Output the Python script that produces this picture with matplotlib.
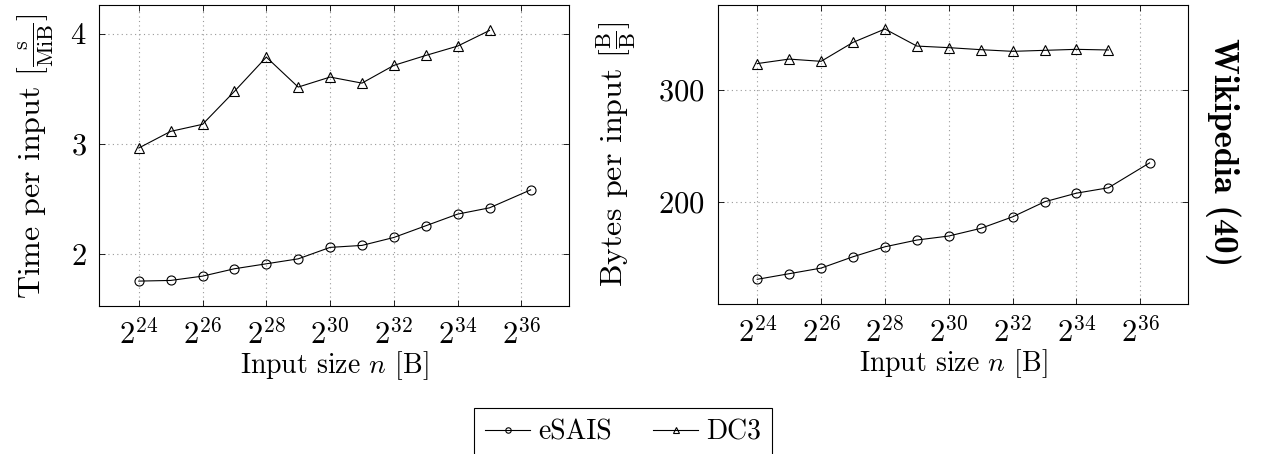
import matplotlib
matplotlib.use("Agg")
import matplotlib.pyplot as plt
import numpy as np

plt.rcParams['font.family'] = 'serif'
plt.rcParams['font.serif'] = ['cmr10']
plt.rcParams['mathtext.fontset'] = 'cm'
plt.rcParams['axes.formatter.use_mathtext'] = True
plt.rcParams['font.size'] = 21

# x positions as exponents of 2
exp_dc3 = [24, 25, 26, 27, 28, 29, 30, 31, 32, 33, 34, 35]
exp_esais = [24, 25, 26, 27, 28, 29, 30, 31, 32, 33, 34, 35, 36.29]

# time per input [s/MiB]
time_esais = [1.755, 1.761, 1.80, 1.867, 1.912, 1.957, 2.061, 2.079, 2.151, 2.257, 2.363, 2.42, 2.583]
time_dc3 = [2.963, 3.114, 3.178, 3.477, 3.788, 3.516, 3.607, 3.552, 3.713, 3.803, 3.888, 4.03]

# bytes per input [B/B]
bytes_esais = [130.9, 135.9, 140.9, 151.0, 159.9, 165.9, 169.5, 176.3, 186.6, 200.0, 207.7, 212.5, 234.7]
bytes_dc3 = [323.2, 327.2, 325.2, 342.1, 354.0, 338.8, 337.4, 335.6, 334.1, 335.0, 335.9, 335.3]

xticks = [24, 26, 28, 30, 32, 34, 36]

fig = plt.figure(figsize=(12.61, 4.54), dpi=100)
ax1 = fig.add_axes([0.0787, 0.326, 0.3727, 0.662])
ax2 = fig.add_axes([0.5691, 0.3304, 0.3732, 0.6593])


def style(ax, yvals_e, yvals_d):
    xe = 2.0 ** np.array(exp_esais)
    xd = 2.0 ** np.array(exp_dc3)
    ax.plot(xe, yvals_e, '-o', color='black', lw=0.8, ms=6.5, mfc='none', mew=0.8, label='eSAIS')
    ax.plot(xd, yvals_d, '-^', color='black', lw=0.8, ms=7, mfc='none', mew=0.8, label='DC3')
    ax.set_xscale('log', base=2)
    ax.set_xticks([2.0 ** e for e in xticks])
    ax.set_xticklabels([r'$2^{%d}$' % e for e in xticks])
    ax.minorticks_off()
    ax.set_xlim(2.0 ** 22.76, 2.0 ** 37.5)
    ax.grid(True, linestyle=(0, (1, 3)), color='#999999', lw=0.8)
    ax.tick_params(direction='in', top=True, right=True, length=4, width=0.6, pad=9, labelsize=22)
    for s in ax.spines.values():
        s.set_linewidth(0.8)
    ax.set_xlabel(r'Input size $n$ [B]', fontsize=20, labelpad=0)


style(ax1, time_esais, time_dc3)
ax1.set_yticks([2, 3, 4])
ax1.set_ylim(1.529, 4.257)
ax1.set_ylabel(r'Time per input $[\frac{\mathrm{s}}{\mathrm{MiB}}]$', fontsize=23, labelpad=10)

style(ax2, bytes_esais, bytes_dc3)
ax2.set_yticks([200, 300])
ax2.set_ylim(108.9, 375.7)
ax2.set_ylabel(r'Bytes per input $[\frac{\mathrm{B}}{\mathrm{B}}]$', fontsize=23, labelpad=15)

fig.text(0.970, 0.666, 'Wikipedia (40)', fontfamily='cmb10', rotation=-90,
         ha='center', va='center', fontsize=25)

handles, labels = ax1.get_legend_handles_labels()
leg = fig.legend(handles, labels, loc='upper center', bbox_to_anchor=(0.4943, 0.1013), ncol=2,
                 fontsize=20, markerscale=0.6, fancybox=False, edgecolor='black', framealpha=1,
                 handlelength=1.6, handletextpad=0.3, columnspacing=1.5, borderpad=0.4,
                 borderaxespad=0)
leg.get_frame().set_linewidth(0.8)

fig.savefig('out.png', dpi=100)
